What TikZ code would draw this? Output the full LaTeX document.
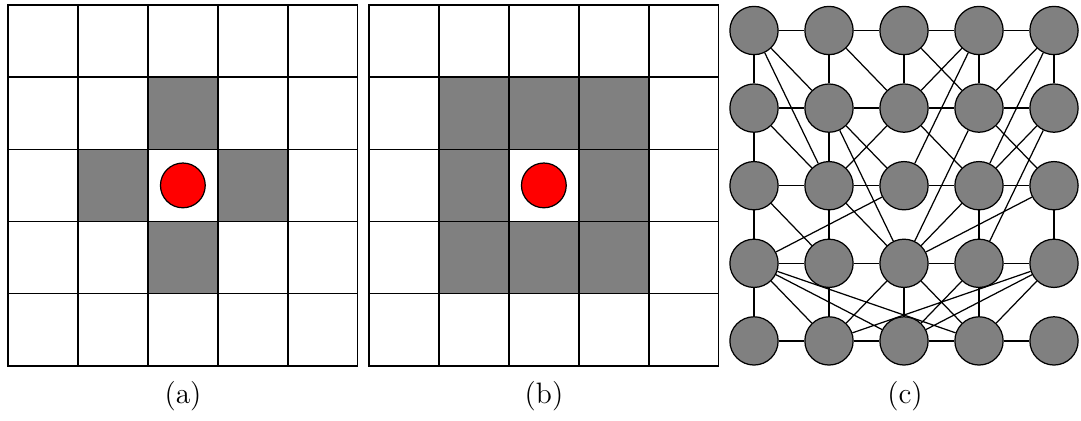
\documentclass[tikz,border=0pt]{standalone}
\usepackage{tikz}
\usetikzlibrary{positioning}
\definecolor{cellgray}{RGB}{128,128,128}
\definecolor{agentred}{RGB}{255,0,0}
\tikzset{
  gridline/.style={draw=black, line width=0.6pt},
  hotcell/.style={fill=cellgray},
  agent/.style={circle, draw=black, fill=agentred, minimum size=0.64cm,
    inner sep=0pt, line width=0.5pt},
  vertex/.style={circle, draw=black, fill=cellgray, minimum size=0.69cm,
    inner sep=0pt, line width=0.5pt},
  edge/.style={black, line width=0.5pt},
  caption/.style={font=\large}
}

\begin{document}
\begin{tikzpicture}[x=0.01429cm, y=-0.01429cm]
  \useasboundingbox (0,0) rectangle (1081,420);

  % Panel (a): four neighbours
  \begin{scope}[shift={(8,5)}, x=1cm, y=-1.0317cm]
    \fill[hotcell] (2,1) rectangle (3,2) (1,2) rectangle (2,3)
                   (3,2) rectangle (4,3) (2,3) rectangle (3,4);
    \draw[gridline] (0,0) rectangle (5,5);
    \foreach \i in {1,...,4} {
      \draw[gridline] (\i,0) -- (\i,5);
      \draw[gridline] (0,\i) -- (5,\i);
    }
    \node[agent] (agentA) at (2.5,2.5) {};
  \end{scope}

  % Panel (b): eight neighbours
  \begin{scope}[shift={(369,5)}, x=1cm, y=-1.0317cm]
    \fill[hotcell, even odd rule] (1,1) rectangle (4,4) (2,2) rectangle (3,3);
    \draw[gridline] (0,0) rectangle (5,5);
    \foreach \i in {1,...,4} {
      \draw[gridline] (\i,0) -- (\i,5);
      \draw[gridline] (0,\i) -- (5,\i);
    }
    \node[agent] (agentB) at (2.5,2.5) {};
  \end{scope}

  % Panel (c): network
  \foreach \r in {1,...,5} {
    \foreach \c in {1,...,5} {
      \node[vertex] (n\r\c) at ({754+75*(\c-1)}, {30.5+77.6*(\r-1)}) {};
    }
  }

  % rows
  \draw[edge] (n11) -- (n12) -- (n13) -- (n14) -- (n15);
  \draw[edge] (n21) -- (n22) -- (n23) -- (n24) -- (n25);
  \draw[edge] (n31) -- (n32) -- (n33) -- (n34) -- (n35);
  \draw[edge] (n41) -- (n42) -- (n43) -- (n44) -- (n45);
  \draw[edge] (n51) -- (n52) -- (n53) -- (n54) -- (n55);

  % columns
  \draw[edge] (n11) -- (n21) -- (n31) -- (n41) -- (n51);
  \draw[edge] (n12) -- (n22) -- (n32) -- (n42) -- (n52);
  \draw[edge] (n13) -- (n23) (n43) -- (n53);
  \draw[edge] (n14) -- (n24) (n34) -- (n44) -- (n54);
  \draw[edge] (n15) -- (n25) (n35) -- (n45);

  % long-range links
  \draw[edge] (n11) -- (n22) (n11) -- (n32) (n12) -- (n23) (n13) -- (n24)
              (n14) -- (n23) (n14) -- (n33) (n15) -- (n24) (n15) -- (n34);
  \draw[edge] (n21) -- (n32) (n22) -- (n33) (n22) -- (n43) (n23) -- (n32)
              (n23) -- (n34) (n24) -- (n43) (n24) -- (n35) (n25) -- (n34)
              (n25) -- (n44);
  \draw[edge] (n31) -- (n42) (n32) -- (n43) (n33) -- (n41) (n34) -- (n43)
              (n35) -- (n43);
  \draw[edge] (n41) -- (n52) (n41) -- (n53) (n41) -- (n54) (n43) -- (n52)
              (n43) -- (n54) (n44) -- (n53) (n45) -- (n52) (n45) -- (n53)
              (n45) -- (n54);

  % captions
  \node[caption] (capA) at (183,396) {(a)};
  \node[caption] (capB) at (544,396) {(b)};
  \node[caption] (capC) at (905,396) {(c)};
\end{tikzpicture}
\end{document}
